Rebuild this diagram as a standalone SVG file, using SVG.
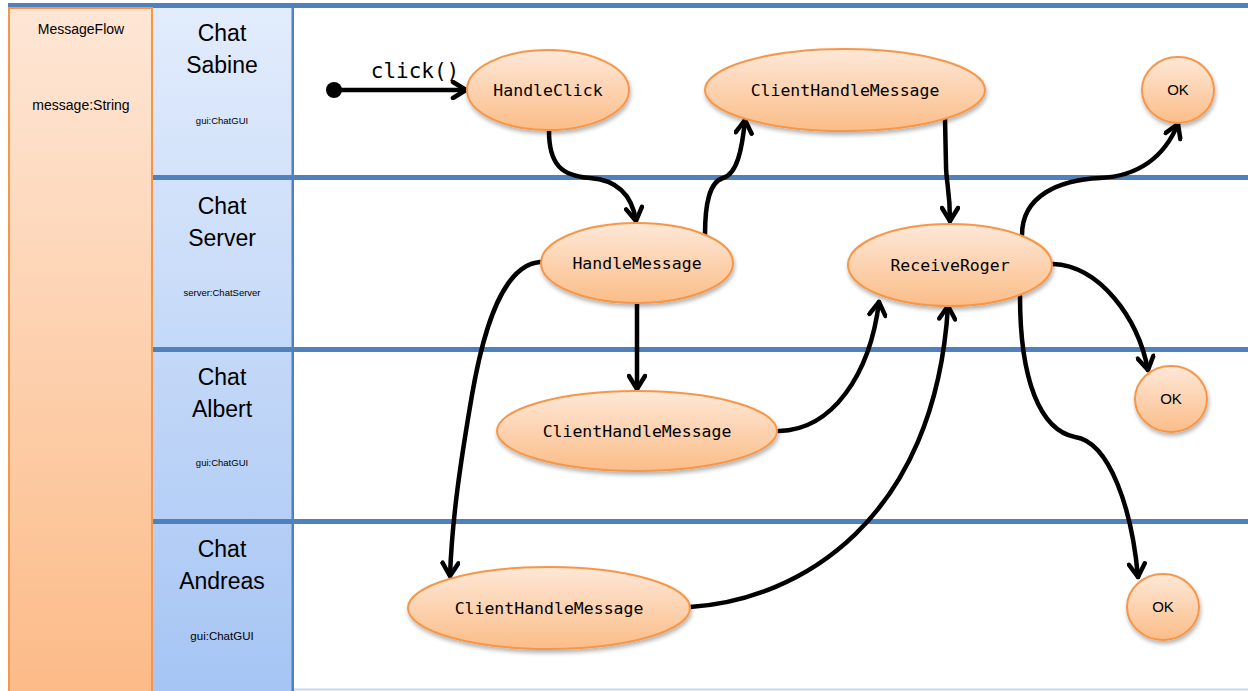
<svg xmlns="http://www.w3.org/2000/svg" width="1248" height="691" viewBox="0 0 1248 691">
<defs>
<linearGradient id="gOrange" x1="0" y1="0" x2="0" y2="1">
<stop offset="0" stop-color="#fee8d8"/><stop offset="1" stop-color="#fbbd88"/>
</linearGradient>
<linearGradient id="gCol" x1="0" y1="0" x2="0" y2="1">
<stop offset="0" stop-color="#fee6d5"/><stop offset="1" stop-color="#fcbb88"/>
</linearGradient>
<linearGradient id="gBlue" x1="0" y1="0" x2="0" y2="1">
<stop offset="0" stop-color="#e2ecfc"/><stop offset="1" stop-color="#a6c5f4"/>
</linearGradient>
<filter id="sh" x="-20%" y="-20%" width="140%" height="150%">
<feGaussianBlur in="SourceAlpha" stdDeviation="2"/>
<feOffset dx="1" dy="3" result="b"/>
<feComponentTransfer><feFuncA type="linear" slope="0.3"/></feComponentTransfer>
<feMerge><feMergeNode/><feMergeNode in="SourceGraphic"/></feMerge>
</filter>
<marker id="arr" viewBox="0 0 20 20" refX="17" refY="10" markerWidth="20" markerHeight="20" markerUnits="userSpaceOnUse" orient="auto">
<path d="M4,2 L17,10 L4,18" fill="none" stroke="#000" stroke-width="4.5" stroke-linecap="round" stroke-linejoin="round"/>
</marker>
</defs>
<style>
.node ellipse{fill:url(#gOrange);stroke:#f79646;stroke-width:2;filter:url(#sh)}
.mono{font-family:"DejaVu Sans Mono","Liberation Mono",monospace;font-size:16.5px;fill:#000;text-anchor:middle}
.ok{font-family:"Liberation Sans",Arial,sans-serif;font-size:15px;fill:#000;text-anchor:middle}
.lane{font-family:"Liberation Sans",Arial,sans-serif;font-size:23px;fill:#000;text-anchor:middle}
.sub{font-family:"Liberation Sans",Arial,sans-serif;font-size:9.5px;fill:#000;text-anchor:middle}
.col{font-family:"Liberation Sans",Arial,sans-serif;font-size:14px;fill:#000;text-anchor:middle}
.sep{fill:#4f81bd}
.conn path{fill:none;stroke:#000;stroke-width:4.5;stroke-linecap:round;marker-end:url(#arr)}
</style>
<rect x="0" y="0" width="1248" height="691" fill="#fff"/>
<g id="frame">
<rect x="8" y="3" width="1240" height="5" class="sep"/>
<rect x="153" y="8" width="139" height="683" fill="url(#gBlue)"/>
<rect x="291.5" y="8" width="2.5" height="683" class="sep"/>
<rect x="153" y="175" width="1095" height="5" class="sep"/>
<rect x="153" y="347" width="1095" height="5" class="sep"/>
<rect x="153" y="519" width="1095" height="5" class="sep"/>
<rect x="294" y="688.5" width="954" height="2" fill="#c6d6ec"/>
</g>
<g id="messageflow">
<rect x="9" y="8" width="143" height="684" fill="url(#gCol)" stroke="#f79646" stroke-width="2"/>
<text x="81" y="34" class="col">MessageFlow</text>
<text x="81" y="110" class="col">message:String</text>
</g>
<g id="lane-sabine">
<text x="222" y="41" class="lane">Chat</text>
<text x="222" y="73" class="lane">Sabine</text>
<text x="222" y="124" class="sub">gui:ChatGUI</text>
</g>
<g id="lane-server">
<text x="222" y="214" class="lane">Chat</text>
<text x="222" y="246" class="lane">Server</text>
<text x="222" y="296" class="sub">server:ChatServer</text>
</g>
<g id="lane-albert">
<text x="222" y="385" class="lane">Chat</text>
<text x="222" y="417" class="lane">Albert</text>
<text x="222" y="466" class="sub">gui:ChatGUI</text>
</g>
<g id="lane-andreas">
<text x="222" y="557" class="lane">Chat</text>
<text x="222" y="589" class="lane">Andreas</text>
<text x="222" y="640" class="sub" style="font-size:11.5px">gui:ChatGUI</text>
</g>
<g id="connectors" class="conn">
<circle cx="334" cy="90" r="8" fill="#000"/>
<path d="M334,90 L466,90"/>
<text x="415" y="78" style="font-family:'DejaVu Sans Mono','Liberation Mono',monospace;font-size:21px;text-anchor:middle">click()</text>
<path d="M549,131 C549,165 562,176 590,178 C618,180 632,195 636,221"/>
<path d="M705,235 C705,205 709,182 723,178 C737,174 742,150 745,120"/>
<path d="M945,119 L946,165 C946,182 950,190 950,221"/>
<path d="M637,304 L637,389"/>
<path d="M540,262 C505,265 485,320 472,395 C460,465 452,520 450,576"/>
<path d="M779,431 C832,430 870,375 879,302"/>
<path d="M690,607 C800,600 935,520 948,306"/>
<path d="M1022,235 C1022,195 1060,180 1100,178 C1140,176 1165,155 1178,124"/>
<path d="M1053,264 C1100,266 1138,318 1148,370"/>
<path d="M1020,296 C1020,380 1040,430 1075,437 C1110,442 1132,510 1138,577"/>
</g>
<g id="n-handleclick" class="node"><ellipse cx="548" cy="90" rx="81" ry="40"/><text x="548" y="96" class="mono">HandleClick</text></g>
<g id="n-chm-sabine" class="node"><ellipse cx="845" cy="90" rx="140" ry="41"/><text x="845" y="96" class="mono">ClientHandleMessage</text></g>
<g id="n-ok-sabine" class="node"><ellipse cx="1178" cy="90" rx="36" ry="33"/><text x="1178" y="95" class="ok">OK</text></g>
<g id="n-handlemessage" class="node"><ellipse cx="637" cy="263" rx="96" ry="40"/><text x="637" y="269" class="mono">HandleMessage</text></g>
<g id="n-receiveroger" class="node"><ellipse cx="950" cy="265" rx="102" ry="41"/><text x="950" y="271" class="mono">ReceiveRoger</text></g>
<g id="n-chm-albert" class="node"><ellipse cx="637" cy="431" rx="140" ry="40"/><text x="637" y="437" class="mono">ClientHandleMessage</text></g>
<g id="n-ok-albert" class="node"><ellipse cx="1171" cy="399" rx="36" ry="33"/><text x="1171" y="404" class="ok">OK</text></g>
<g id="n-chm-andreas" class="node"><ellipse cx="549" cy="608" rx="141" ry="41"/><text x="549" y="614" class="mono">ClientHandleMessage</text></g>
<g id="n-ok-andreas" class="node"><ellipse cx="1163" cy="607" rx="36" ry="33"/><text x="1163" y="612" class="ok">OK</text></g>
</svg>
